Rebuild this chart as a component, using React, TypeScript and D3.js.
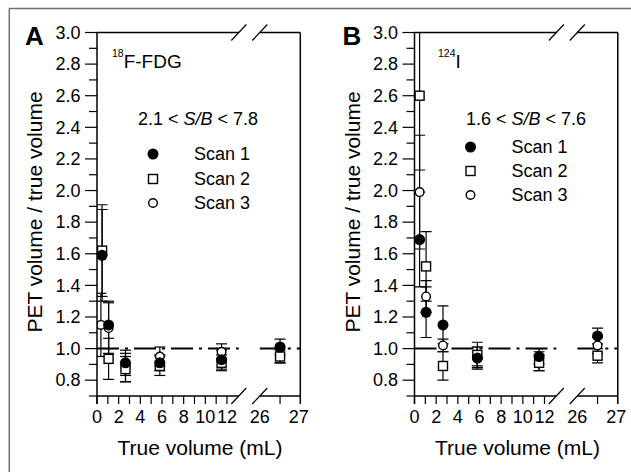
import React from 'react';
import { scaleLinear, range } from 'd3';

// sphere volumes (mL) shared by the scans
const sphereVolumes = [0.47, 1.07, 2.63, 5.8, 11.5, 26.5];
const fdgScan3Volumes = [0.36, 1.07, 2.63, 5.8, 11.5, 26.5];

// 18F-FDG panel
const fdgScan1 = [1.59, 1.15, 0.91, 0.91, 0.93, 1.01];
const fdgScan1Err = [0.29, 0.15, 0.08, 0.05, 0.06, 0.05];
const fdgScan2 = [1.62, 0.935, 0.87, 0.89, 0.91, 0.95];
const fdgScan2Err = [0.29, 0.13, 0.08, 0.06, 0.05, 0.04];
const fdgScan3 = [1.15, 1.13, 0.88, 0.95, 0.98, 0.96];
const fdgScan3Err = [0.2, 0.16, 0.09, 0.06, 0.05, 0.05];

// 124I panel
const iScan1 = [1.69, 1.23, 1.15, 0.94, 0.95, 1.08];
const iScan1Err = [0.3, 0.16, 0.12, 0.07, 0.05, 0.05];
const iScan2 = [2.6, 1.52, 0.89, 0.96, 0.91, 0.955];
const iScan2Err = [0.47, 0.22, 0.09, 0.08, 0.05, 0.045];
const iScan3 = [1.99, 1.33, 1.02, 0.95, 0.92, 1.02];
const iScan3Err = [0.36, 0.1, 0.04, 0.06, 0.06, 0.05];

const scanNames = ['Scan 1', 'Scan 2', 'Scan 3'];
const xTickLabelsLow = [0, 2, 4, 6, 8, 10, 12];
const xTickLabelsHigh = [26, 27];
const yTickLabels = range(8, 31, 2).map(d => d / 10);

const font = "'Liberation Sans', Arial, Helvetica, sans-serif";

function Marker({ shape, cx, cy }) {
    if (shape === 'filled') return <circle cx={cx} cy={cy} r={5.5} fill="#000" />;
    if (shape === 'square') {
        return <rect x={cx - 4.5} y={cy - 4.5} width={9} height={9} fill="#fff" stroke="#000" strokeWidth={1.4} />;
    }
    return <circle cx={cx} cy={cy} r={4.3} fill="#fff" stroke="#000" strokeWidth={1.4} />;
}

function Panel({ offset, letter, id, isotope, isotopeMass, sbLow, sbHigh, legendY, isotopeX, sbX, series }) {
    const x0 = offset + 97;
    const xLow = scaleLinear().domain([0, 12]).range([x0, x0 + 130]);
    const xHigh = scaleLinear().domain([26, 27]).range([x0 + 162.8, x0 + 203.3]);
    const y = scaleLinear().domain([0.7, 3.0]).range([396, 32.5]);
    const xPos = v => (v > 20 ? xHigh(v) : xLow(v));

    const left = x0;
    const right = xHigh(27);
    const top = y(3.0);
    const bottom = y(0.7);
    const breakA = x0 + 141.8;
    const breakB = xHigh(26);

    // draw scan 3 first so that scan 1 sits on top
    const drawOrder = [2, 1, 0];

    const slash = (cx, cy, k) => (
        <line key={k} x1={cx - 7.5} y1={cy + 8} x2={cx + 7.5} y2={cy - 8} stroke="#000" strokeWidth={1.2} />
    );

    return (
        <g fontFamily={font}>
            <defs>
                <clipPath id={id}>
                    <rect x={left} y={top} width={right - left} height={bottom - top} />
                </clipPath>
            </defs>

            {/* reference line at 1.0 */}
            <g stroke="#000" strokeWidth={2} strokeDasharray="22 6 3 6">
                <line x1={left} x2={breakA} y1={y(1)} y2={y(1)} />
                <line x1={breakB} x2={right} y1={y(1)} y2={y(1)} />
            </g>

            <g clipPath={`url(#${id})`}>
                {drawOrder.map(si => {
                    const s = series[si];
                    return (
                        <g key={'e' + si} stroke="#000" strokeWidth={1.2}>
                            {s.values.map((v, i) => {
                                const cx = xPos(s.volumes[i]);
                                const y1 = y(v + s.errors[i]);
                                const y2 = y(v - s.errors[i]);
                                return (
                                    <g key={i}>
                                        <line x1={cx} x2={cx} y1={y1} y2={y2} />
                                        <line x1={cx - 5.5} x2={cx + 5.5} y1={y1} y2={y1} />
                                        <line x1={cx - 5.5} x2={cx + 5.5} y1={y2} y2={y2} />
                                    </g>
                                );
                            })}
                        </g>
                    );
                })}
                {drawOrder.map(si => {
                    const s = series[si];
                    return (
                        <g key={'m' + si}>
                            {s.values.map((v, i) => (
                                <Marker key={i} shape={s.shape} cx={xPos(s.volumes[i])} cy={y(v)} />
                            ))}
                        </g>
                    );
                })}
            </g>

            {/* frame with axis break */}
            <g stroke="#000" strokeWidth={1.5} fill="none">
                <line x1={left} x2={left} y1={top} y2={bottom + 8} />
                <line x1={right} x2={right} y1={top} y2={bottom + 8} />
                <line x1={left} x2={breakA} y1={top} y2={top} />
                <line x1={breakB} x2={right} y1={top} y2={top} />
                <line x1={left} x2={breakA} y1={bottom} y2={bottom} />
                <line x1={breakB} x2={right} y1={bottom} y2={bottom} />
            </g>
            {slash(breakA, top, 's1')}
            {slash(breakB, top, 's2')}
            {slash(breakA, bottom, 's3')}
            {slash(breakB, bottom, 's4')}

            {/* y ticks */}
            <g stroke="#000" strokeWidth={1.2}>
                {range(7, 30, 2).map(d => (
                    <line key={d} x1={left - 8} x2={left} y1={y(d / 10)} y2={y(d / 10)} />
                ))}
                {yTickLabels.map(d => (
                    <line key={d} x1={left - 12} x2={left} y1={y(d)} y2={y(d)} />
                ))}
            </g>
            <g fontSize={18} textAnchor="end">
                {yTickLabels.map(d => (
                    <text key={d} x={left - 16.5} y={y(d)} dy="0.35em">{d.toFixed(1)}</text>
                ))}
            </g>

            {/* x ticks */}
            <g stroke="#000" strokeWidth={1.2}>
                {range(0, 13).map(d => (
                    <line key={d} x1={xLow(d)} x2={xLow(d)} y1={bottom} y2={bottom + 8} />
                ))}
                <line x1={xHigh(26.5)} x2={xHigh(26.5)} y1={bottom} y2={bottom + 8} />
            </g>
            <g fontSize={18} textAnchor="middle">
                {xTickLabelsLow.map(d => (
                    <text key={d} x={xLow(d)} y={423}>{d}</text>
                ))}
                {xTickLabelsHigh.map(d => (
                    <text key={d} x={xHigh(d) - (d === 27 ? 1.5 : 0)} y={423}>{d}</text>
                ))}
            </g>

            {/* titles */}
            <text x={offset + 200} y={455} fontSize={21} textAnchor="middle">True volume (mL)</text>
            <text
                transform={`translate(${offset + 42},212) rotate(-90)`}
                fontSize={21}
                textAnchor="middle"
            >
                PET volume / true volume
            </text>
            <text x={offset + 25} y={45} fontSize={26} fontWeight="bold">{letter}</text>

            {/* annotations and legend */}
            <text x={offset + isotopeX} y={68} fontSize={19}>
                <tspan fontSize={10.5} dy={-11}>{isotopeMass}</tspan>
                <tspan dy={11}>{isotope}</tspan>
            </text>
            <text x={offset + sbX} y={125} fontSize={18} style={{ whiteSpace: 'pre' }}>
                {sbLow + ' < '}
                <tspan fontStyle="italic">S/B</tspan>
                {' < ' + sbHigh}
            </text>
            {series.map((s, i) => (
                <g key={s.name}>
                    <Marker shape={s.shape} cx={offset + 153} cy={legendY[i]} />
                    <text x={offset + 194} y={legendY[i]} dy="0.36em" fontSize={18}>{s.name}</text>
                </g>
            ))}
        </g>
    );
}

export default function App() {
    const shapes = ['filled', 'square', 'open'];
    const fdgSeries = [
        { values: fdgScan1, errors: fdgScan1Err, volumes: sphereVolumes },
        { values: fdgScan2, errors: fdgScan2Err, volumes: sphereVolumes },
        { values: fdgScan3, errors: fdgScan3Err, volumes: fdgScan3Volumes },
    ].map((s, i) => ({ ...s, name: scanNames[i], shape: shapes[i] }));
    const iSeries = [
        { values: iScan1, errors: iScan1Err, volumes: sphereVolumes },
        { values: iScan2, errors: iScan2Err, volumes: sphereVolumes },
        { values: iScan3, errors: iScan3Err, volumes: sphereVolumes },
    ].map((s, i) => ({ ...s, name: scanNames[i], shape: shapes[i] }));

    return (
        <svg
            width={631}
            height={472}
            style={{ position: 'absolute', left: 0, top: 0, background: '#fff' }}
        >
            {/* outer figure border */}
            <g stroke="#6e6e6e" strokeWidth={1.5}>
                <line x1={9} x2={631} y1={8.5} y2={8.5} />
                <line x1={9.3} x2={9.3} y1={8.5} y2={472} />
            </g>
            <Panel
                offset={0}
                id="clipA"
                letter="A"
                isotopeMass="18"
                isotope="F-FDG"
                isotopeX={112}
                sbLow="2.1"
                sbHigh="7.8"
                sbX={138}
                legendY={[154, 179, 203]}
                series={fdgSeries}
            />
            <Panel
                offset={317.5}
                id="clipB"
                letter="B"
                isotopeMass="124"
                isotope="I"
                isotopeX={120.5}
                sbLow="1.6"
                sbHigh="7.6"
                sbX={148.5}
                legendY={[147, 171, 195]}
                series={iSeries}
            />
        </svg>
    );
}
